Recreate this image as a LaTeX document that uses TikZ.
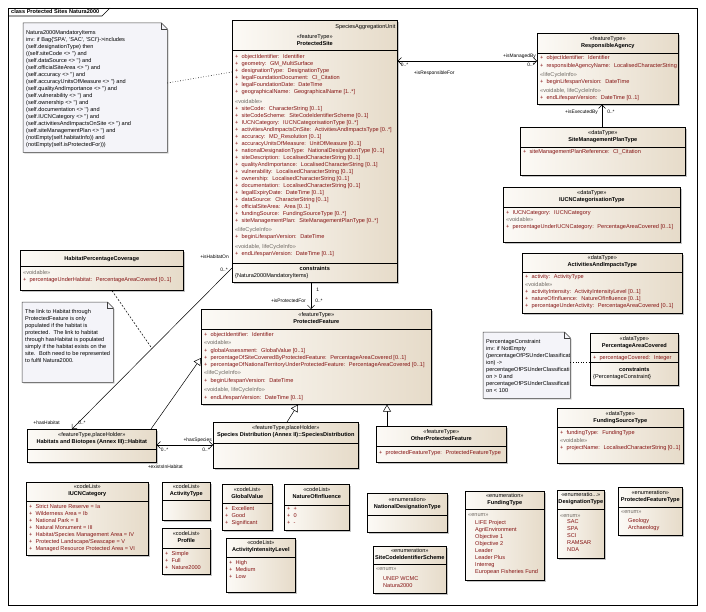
\documentclass[tikz,border=0pt]{standalone}
\usepackage{fontspec}
\newfontfamily\umlfont{Liberation Sans}
\usepackage{tikz}
\usetikzlibrary{positioning,arrows.meta,shadows,calc}

\definecolor{clsA}{RGB}{252,250,246}
\definecolor{clsB}{RGB}{230,219,201}
\definecolor{attred}{RGB}{132,18,18}
\definecolor{stgray}{RGB}{112,106,100}
\definecolor{notefill}{RGB}{244,244,249}
\newcommand{\stlabel}[1]{{\color{stgray}«#1»}}

\begin{document}
\begin{tikzpicture}[x=1pt,y=-1pt,
  every node/.style={font=\umlfont\fontsize{5.6}{7}\selectfont,inner sep=0pt},
  cls/.style={rectangle,draw=black,line width=0.6pt,anchor=north west,
              left color=clsA,right color=clsB,
              drop shadow={shadow xshift=1.3pt,shadow yshift=-1.3pt,fill=black!45}},
  notebox/.style={rectangle,anchor=north west},
  notebody/.style={draw=black!75,line width=0.5pt,fill=notefill,
              drop shadow={shadow xshift=1.3pt,shadow yshift=-1.3pt,fill=black!35}},
  fold/.style={draw=black!75,line width=0.5pt},
  head/.style={anchor=north,align=center,execute at begin node=\strut},
  attr/.style={anchor=north west,align=left,text=attred,execute at begin node=\strut},
  notetxt/.style={anchor=north west,align=left,execute at begin node=\strut},
  sep/.style={line width=0.6pt},
  lab/.style={font=\umlfont\fontsize{4.9}{6}\selectfont},
  nav/.style={-{Straight Barb[length=3.5pt,width=7pt]},line width=0.5pt},
  nav2/.style={{Straight Barb[length=3.5pt,width=7pt]}-{Straight Barb[length=3.5pt,width=7pt]},line width=0.5pt},
  gen/.style={-{Triangle[length=7pt,width=8pt,fill=white]},line width=0.5pt},
  link/.style={dotted,line width=0.6pt},
  acls/.style={dash pattern=on 2pt off 1.5pt,line width=0.5pt},
]
\fill[white] (0,0) rectangle (706,612);
\useasboundingbox (0,0) rectangle (706,612);

% frame
\draw[line width=0.7pt] (8,8) rectangle (697,605);
\draw[line width=0.6pt] (8,16) -- (102,16) -- (110,8);
\node[anchor=west] (title) at (11,12) {\textbf{class Protected Sites Natura2000}};

% notes
\node[notebox,minimum width=144,minimum height=129] (mand) at (23,23) {};
\draw[notebody] (mand.north west) -- ([xshift=-6pt]mand.north east)
  -- ([yshift=-6pt]mand.north east) -- (mand.south east) -- (mand.south west) -- cycle;
\draw[fold] ([xshift=-6pt]mand.north east) |- ([yshift=-6pt]mand.north east);
\node[notetxt] (mandtxt) at ([xshift=3pt,yshift=-6.9pt]mand.north west) {%
Natura2000MandatoryItems\\
inv: if Bag\{'SPA', 'SAC', 'SCI'\}->includes\\
(self.designationType) then\\
((self.siteCode <> '') and\\
(self.dataSource <> '') and\\
(self.officialSiteArea <> '') and\\
(self.accuracy <> '') and\\
(self.accuracyUnitsOfMeasure <> '') and\\
(self.qualityAndImportance <> '') and\\
(self.vulnerability <> '') and\\
(self.ownership <> '') and\\
(self.documentation <> '') and\\
(self.IUCNCategory <> '') and\\
(self.activitiesAndImpactsOnSite <> '') and\\
(self.siteManagementPlan <> '') and\\
(notEmpty(self.habitatInfo)) and\\
(notEmpty(self.isProtectedFor)))};

\node[notebox,minimum width=91,minimum height=80] (linknote) at (22,302) {};
\draw[notebody] (linknote.north west) -- ([xshift=-6pt]linknote.north east)
  -- ([yshift=-6pt]linknote.north east) -- (linknote.south east) -- (linknote.south west) -- cycle;
\draw[fold] ([xshift=-6pt]linknote.north east) |- ([yshift=-6pt]linknote.north east);
\node[notetxt] (linktxt) at ([xshift=3pt,yshift=-6.9pt]linknote.north west) {%
The link to Habitat through\\
ProtectedFeature is only\\
populated if the habitat is\\
protected.~ The link to habitat\\
through hasHabitat is populated\\
simply if the habitat exists on the\\
site.~ Both need to be represented\\
to fulfil Natura2000.};

\node[notebox,minimum width=87,minimum height=66] (pcnote) at (483,332) {};
\draw[notebody] (pcnote.north west) -- ([xshift=-6pt]pcnote.north east)
  -- ([yshift=-6pt]pcnote.north east) -- (pcnote.south east) -- (pcnote.south west) -- cycle;
\draw[fold] ([xshift=-6pt]pcnote.north east) |- ([yshift=-6pt]pcnote.north east);
\node[notetxt] (pctxt) at ([xshift=3pt,yshift=-6.9pt]pcnote.north west) {%
PercentageConstraint\\
inv: if NotEmpty\\
(percentageOfPSUnderClassificat\\
ion) ->\\
percentageOfPSUnderClassificati\\
on > 0 and\\
percentageOfPSUnderClassificati\\
on < 100};

% ProtectedSite
\node[cls,minimum width=165,minimum height=262] (site) at (232,20) {};
\node[anchor=north east] (siteparent) at ([xshift=-2pt,yshift=-4pt]site.north east) {SpeciesAggregationUnit};
\node[head] (sitehead) at ([yshift=-14.7pt]site.north) {«featureType»\\\textbf{ProtectedSite}};
\draw[sep] ([yshift=-30pt]site.north west) -- ([yshift=-30pt]site.north east);
\node[attr] (siteattr) at ([xshift=3pt,yshift=-33.8pt]site.north west) {%
+~ objectIdentifier:~ Identifier\\
+~ geometry:~ GM\_MultiSurface\\
+~ designationType:~ DesignationType\\
+~ legalFoundationDocument:~ CI\_Citation\\
+~ legalFoundationDate:~ DateTime\\
+~ geographicalName:~ GeographicalName [1..*]\\[3pt]
\stlabel{voidable}\\
+~ siteCode:~ CharacterString [0..1]\\
+~ siteCodeScheme:~ SiteCodeIdentifierScheme [0..1]\\
+~ IUCNCategory:~ IUCNCategorisationType [0..*]\\
+~ activitiesAndImpactsOnSite:~ ActivitiesAndImpactsType [0..*]\\
+~ accuracy:~ MD\_Resolution [0..1]\\
+~ accuracyUnitsOfMeasure:~ UnitOfMeasure [0..1]\\
+~ nationalDesignationType:~ NationalDesignationType [0..1]\\
+~ siteDescription:~ LocalisedCharacterString [0..1]\\
+~ qualityAndImportance:~ LocalisedCharacterString [0..1]\\
+~ vulnerability:~ LocalisedCharacterString [0..1]\\
+~ ownership:~ LocalisedCharacterString [0..1]\\
+~ documentation:~ LocalisedCharacterString [0..1]\\
+~ legalExpiryDate:~ DateTime [0..1]\\
+~ dataSource:~ CharacterString [0..1]\\
+~ officialSiteArea:~ Area [0..1]\\
+~ fundingSource:~ FundingSourceType [0..*]\\
+~ siteManagementPlan:~ SiteManagementPlanType [0..*]\\[2pt]
\stlabel{lifeCycleInfo}\\
+~ beginLifespanVersion:~ DateTime\\[3pt]
\stlabel{voidable, lifeCycleInfo}\\
+~ endLifespanVersion:~ DateTime [0..1]};
\draw[sep] ([yshift=-243pt]site.north west) -- ([yshift=-243pt]site.north east);
\node[head] (sitecons) at ([yshift=-245pt]site.north) {\textbf{constraints}};
\node[notetxt] (siteconstxt) at ([xshift=3pt,yshift=-252.8pt]site.north west) {\{Natura2000MandatoryItems\}};

% ResponsibleAgency
\node[cls,minimum width=141,minimum height=71] (agency) at (537,33) {};
\node[head] (agencyhead) at ([yshift=-3.3pt]agency.north) {«featureType»\\\textbf{ResponsibleAgency}};
\draw[sep] ([yshift=-20pt]agency.north west) -- ([yshift=-20pt]agency.north east);
\node[attr] (agencyattr) at ([xshift=3pt,yshift=-21.9pt]agency.north west) {%
+~ objectIdentifier:~ Identifier\\[1pt]
+~ responsibleAgencyName:~ LocalisedCharacterString\\[2pt]
\stlabel{lifeCycleInfo}\\
+~ beginLifespanVersion:~ DateTime\\[2pt]
\stlabel{voidable, lifeCycleInfo}\\
+~ endLifespanVersion:~ DateTime [0..1]};

% SiteManagementPlanType
\node[cls,minimum width=165,minimum height=48] (smp) at (520,127) {};
\node[head] (smphead) at ([yshift=-3.3pt]smp.north) {«dataType»\\\textbf{SiteManagementPlanType}};
\draw[sep] ([yshift=-20pt]smp.north west) -- ([yshift=-20pt]smp.north east);
\node[attr] (smpattr) at ([xshift=3pt,yshift=-21.9pt]smp.north west) {%
+~ siteManagementPlanReference:~ CI\_Citation};

% IUCNCategorisationType
\node[cls,minimum width=177,minimum height=55] (iucnT) at (503,187) {};
\node[head] (iucnThead) at ([yshift=-3.3pt]iucnT.north) {«dataType»\\\textbf{IUCNCategorisationType}};
\draw[sep] ([yshift=-20pt]iucnT.north west) -- ([yshift=-20pt]iucnT.north east);
\node[attr] (iucnTattr) at ([xshift=3pt,yshift=-22.9pt]iucnT.north west) {%
+~ IUCNCategory:~ IUCNCategory\\
\stlabel{voidable}\\
+~ percentageUnderIUCNCategory:~ PercentageAreaCovered [0..1]};

% ActivitiesAndImpactsType
\node[cls,minimum width=160,minimum height=60] (aai) at (522,253) {};
\node[head] (aaihead) at ([yshift=-2.6pt]aai.north) {«dataType»\\\textbf{ActivitiesAndImpactsType}};
\draw[sep] ([yshift=-19pt]aai.north west) -- ([yshift=-19pt]aai.north east);
\node[attr] (aaiattr) at ([xshift=3pt,yshift=-20.9pt]aai.north west) {%
+~ activity:~ ActivityType\\[1pt]
\stlabel{voidable}\\
+~ activityIntensity:~ ActivityIntensityLevel [0..1]\\
+~ natureOfInfluence:~ NatureOfInfluence [0..1]\\
+~ percentageUnderActivity:~ PercentageAreaCovered [0..1]};

% PercentageAreaCovered
\node[cls,minimum width=88,minimum height=52] (pac) at (590,333) {};
\node[head] (pachead) at ([yshift=-3.3pt]pac.north) {«dataType»\\\textbf{PercentageAreaCovered}};
\draw[sep] ([yshift=-19pt]pac.north west) -- ([yshift=-19pt]pac.north east);
\node[attr] (pacattr) at ([xshift=3pt,yshift=-20.9pt]pac.north west) {%
+~ percentageCovered:~ Integer};
\draw[sep] ([yshift=-29pt]pac.north west) -- ([yshift=-29pt]pac.north east);
\node[head] (paccons) at ([yshift=-32.9pt]pac.north) {\textbf{constraints}};
\node[notetxt] (pacconstxt) at ([xshift=3pt,yshift=-39.9pt]pac.north west) {\{PercentageConstraint\}};

% FundingSourceType
\node[cls,minimum width=126,minimum height=55] (fst) at (557,408) {};
\node[head] (fsthead) at ([yshift=-3.3pt]fst.north) {«dataType»\\\textbf{FundingSourceType}};
\draw[sep] ([yshift=-19pt]fst.north west) -- ([yshift=-19pt]fst.north east);
\node[attr] (fstattr) at ([xshift=3pt,yshift=-21.9pt]fst.north west) {%
+~ fundingType:~ FundingType\\[1pt]
\stlabel{voidable}\\
+~ projectName:~ LocalisedCharacterString [0..1]};

% HabitatPercentageCoverage
\node[cls,minimum width=163,minimum height=40] (hpc) at (20,250) {};
\node[head] (hpchead) at ([yshift=-4.9pt]hpc.north) {\textbf{HabitatPercentageCoverage}};
\draw[sep] ([yshift=-16pt]hpc.north west) -- ([yshift=-16pt]hpc.north east);
\node[attr] (hpcattr) at ([xshift=3pt,yshift=-19.9pt]hpc.north west) {%
\stlabel{voidable}\\
+~ percentageUnderHabitat:~ PercentageAreaCovered [0..1]};

% ProtectedFeature
\node[cls,minimum width=230,minimum height=95] (feature) at (201,309) {};
\node[head] (featurehead) at ([yshift=-3.3pt]feature.north) {«featureType»\\\textbf{ProtectedFeature}};
\draw[sep] ([yshift=-20pt]feature.north west) -- ([yshift=-20pt]feature.north east);
\node[attr] (featureattr) at ([xshift=3pt,yshift=-22.9pt]feature.north west) {%
+~ objectIdentifier:~ Identifier\\[1pt]
\stlabel{voidable}\\[1pt]
+~ globalAssessment:~ GlobalValue [0..1]\\
+~ percentageOfSiteCoveredByProtectedFeature:~ PercentageAreaCovered [0..1]\\
+~ percentageOfNationalTerritoryUnderProtectedFeature:~ PercentageAreaCovered [0..1]\\[1pt]
\stlabel{lifeCycleInfo}\\[1pt]
+~ beginLifespanVersion:~ DateTime\\[2pt]
\stlabel{voidable, lifeCycleInfo}\\[1pt]
+~ endLifespanVersion:~ DateTime [0..1]};

% Habitat, SpeciesDistribution, OtherProtectedFeature
\node[cls,minimum width=129,minimum height=33] (habitat) at (27,429) {};
\node[head] (habitathead) at ([yshift=-3.3pt]habitat.north) {«featureType,placeHolder»\\\textbf{Habitats and Biotopes (Annex III)::Habitat}};
\draw[sep] ([yshift=-20pt]habitat.north west) -- ([yshift=-20pt]habitat.north east);

\node[cls,minimum width=145,minimum height=46] (species) at (213,422) {};
\node[head] (specieshead) at ([yshift=-3.3pt]species.north) {«featureType,placeHolder»\\\textbf{Species Distribution (Annex II)::SpeciesDistribution}};
\draw[sep] ([yshift=-21pt]species.north west) -- ([yshift=-21pt]species.north east);

\node[cls,minimum width=130,minimum height=36] (other) at (376,426) {};
\node[head] (otherhead) at ([yshift=-3.3pt]other.north) {«featureType»\\\textbf{OtherProtectedFeature}};
\draw[sep] ([yshift=-20pt]other.north west) -- ([yshift=-20pt]other.north east);
\node[attr] (otherattr) at ([xshift=3pt,yshift=-22.9pt]other.north west) {%
+~ protectedFeatureType:~ ProtectedFeatureType};

% code lists
\node[cls,minimum width=122,minimum height=73] (iucnC) at (26,482) {};
\node[head] (iucnChead) at ([yshift=-2.3pt]iucnC.north) {«codeList»\\\textbf{IUCNCategory}};
\draw[sep] ([yshift=-19pt]iucnC.north west) -- ([yshift=-19pt]iucnC.north east);
\node[attr] (iucnCattr) at ([xshift=3pt,yshift=-21.9pt]iucnC.north west) {%
+~ Strict Nature Reserve = Ia\\
+~ Wilderness Area = Ib\\
+~ National Park = II\\
+~ Natural Monument = III\\
+~ Habitat/Species Management Area = IV\\
+~ Protected Landscape/Seascape = V\\
+~ Managed Resource Protected Area = VI};

\node[cls,minimum width=48,minimum height=38] (actT) at (162,482) {};
\node[head] (actThead) at ([yshift=-2.3pt]actT.north) {«codeList»\\\textbf{ActivityType}};
\draw[sep] ([yshift=-18pt]actT.north west) -- ([yshift=-18pt]actT.north east);

\node[cls,minimum width=48,minimum height=46] (profile) at (162,528) {};
\node[head] (profilehead) at ([yshift=-3.3pt]profile.north) {«codeList»\\\textbf{Profile}};
\draw[sep] ([yshift=-20pt]profile.north west) -- ([yshift=-20pt]profile.north east);
\node[attr] (profileattr) at ([xshift=3pt,yshift=-22.9pt]profile.north west) {%
+~ Simple\\
+~ Full\\
+~ Nature2000};

\node[cls,minimum width=50,minimum height=46] (gval) at (222,484) {};
\node[head] (gvalhead) at ([yshift=-3.3pt]gval.north) {«codeList»\\\textbf{GlobalValue}};
\draw[sep] ([yshift=-19pt]gval.north west) -- ([yshift=-19pt]gval.north east);
\node[attr] (gvalattr) at ([xshift=3pt,yshift=-21.9pt]gval.north west) {%
+~ Excellent\\
+~ Good\\
+~ Significant};

\node[cls,minimum width=65,minimum height=46] (nat) at (284,484) {};
\node[head] (nathead) at ([yshift=-3.3pt]nat.north) {«codeList»\\\textbf{NatureOfInfluence}};
\draw[sep] ([yshift=-21pt]nat.north west) -- ([yshift=-21pt]nat.north east);
\node[attr] (natattr) at ([xshift=3pt,yshift=-22.9pt]nat.north west) {%
+~ +\\
+~ 0\\
+~ -};

\node[cls,minimum width=69,minimum height=54] (ail) at (226,538) {};
\node[head] (ailhead) at ([yshift=-2.3pt]ail.north) {«codeList»\\\textbf{ActivityIntensityLevel}};
\draw[sep] ([yshift=-19pt]ail.north west) -- ([yshift=-19pt]ail.north east);
\node[attr] (ailattr) at ([xshift=3pt,yshift=-21.9pt]ail.north west) {%
+~ High\\
+~ Medium\\
+~ Low};

% enumerations
\node[cls,minimum width=80,minimum height=39] (ndt) at (367,493) {};
\node[head] (ndthead) at ([yshift=-4.3pt]ndt.north) {«enumeration»\\\textbf{NationalDesignationType}};
\draw[sep] ([yshift=-22pt]ndt.north west) -- ([yshift=-22pt]ndt.north east);

\node[cls,minimum width=73,minimum height=47] (scis) at (373,546) {};
\node[head] (scishead) at ([yshift=-2.3pt]scis.north) {«enumeration»\\\textbf{SiteCodeIdentifierScheme}};
\draw[sep] ([yshift=-18pt]scis.north west) -- ([yshift=-18pt]scis.north east);
\node[attr] (scisattr) at ([xshift=3pt,yshift=-20.9pt]scis.north west) {%
\stlabel{enum}\\[3pt]
\hspace*{7pt}UNEP WCMC\\
\hspace*{7pt}Natura2000};

\node[cls,minimum width=79,minimum height=89] (fund) at (465,491) {};
\node[head] (fundhead) at ([yshift=-2.3pt]fund.north) {«enumeration»\\\textbf{FundingType}};
\draw[sep] ([yshift=-18pt]fund.north west) -- ([yshift=-18pt]fund.north east);
\node[attr] (fundattr) at ([xshift=3pt,yshift=-21.9pt]fund.north west) {%
\stlabel{enum}\\[1pt]
\hspace*{7pt}LIFE Project\\
\hspace*{7pt}AgriEnvironment\\
\hspace*{7pt}Objective 1\\
\hspace*{7pt}Objective 2\\
\hspace*{7pt}Leader\\
\hspace*{7pt}Leader Plus\\
\hspace*{7pt}Interreg\\
\hspace*{7pt}European Fisheries Fund};

\node[cls,minimum width=47,minimum height=68] (dest) at (557,490) {};
\node[head] (desthead) at ([yshift=-2.3pt]dest.north) {«enumeratio...»\\\textbf{DesignationType}};
\draw[sep] ([yshift=-19pt]dest.north west) -- ([yshift=-19pt]dest.north east);
\node[attr] (destattr) at ([xshift=3pt,yshift=-23.9pt]dest.north west) {%
\stlabel{enum}\\[-1pt]
\hspace*{7pt}SAC\\
\hspace*{7pt}SPA\\
\hspace*{7pt}SCI\\
\hspace*{7pt}RAMSAR\\
\hspace*{7pt}NDA};

\node[cls,minimum width=64,minimum height=48] (pft) at (618,487) {};
\node[head] (pfthead) at ([yshift=-3.3pt]pft.north) {«enumeration»\\\textbf{ProtectedFeatureType}};
\draw[sep] ([yshift=-20pt]pft.north west) -- ([yshift=-20pt]pft.north east);
\node[attr] (pftattr) at ([xshift=3pt,yshift=-22.9pt]pft.north west) {%
\stlabel{enum}\\[2pt]
\hspace*{7pt}Geology\\
\hspace*{7pt}Archaeology};

% connectors
\draw[link] ([yshift=-60pt]mand.north east) -- ([yshift=-52pt]site.north west);
\draw[link] ([yshift=-30pt]pcnote.north east) -- ([yshift=-29pt]pac.north west);

\draw[nav2] ([yshift=-41pt]site.north east) -- ([yshift=-28pt]agency.north west)
  node[lab,pos=1,anchor=south east,xshift=-1pt,yshift=2.5pt]{+isManagedBy}
  node[lab,pos=1,anchor=north east,xshift=-2pt,yshift=-2pt]{0..*}
  node[lab,pos=0,anchor=north west,xshift=3pt,yshift=-2pt]{0..*}
  node[lab,pos=0,anchor=north west,xshift=16pt,yshift=-9.5pt]{+isResponsibleFor};

\draw[nav] ([xshift=82pt]smp.north west) -- ([xshift=65pt]agency.south west)
  node[lab,pos=1,anchor=north east,xshift=-4pt,yshift=-5pt]{+isExecutedBy}
  node[lab,pos=1,anchor=north west,xshift=5pt,yshift=-5pt]{0..*};

\draw[nav] ([xshift=79pt]site.south west) -- ([xshift=110pt]feature.north west)
  node[lab,pos=0,anchor=north west,xshift=5pt,yshift=-5pt]{1}
  node[lab,pos=1,anchor=south east,xshift=-5pt,yshift=6pt]{+isProtectedFor}
  node[lab,pos=1,anchor=south west,xshift=4pt,yshift=6pt]{0..*};

\draw[nav] ([yshift=-248pt]site.north west) -- ([xshift=45pt]habitat.north west)
  coordinate[pos=0.5] (hpcmid)
  node[lab,pos=0,anchor=south east,xshift=-3pt,yshift=9pt]{+isHabitatOn}
  node[lab,pos=0,anchor=north east,xshift=-4pt,yshift=0pt]{0..*}
  node[lab,pos=1,anchor=south east,xshift=-12pt,yshift=4pt]{+hasHabitat}
  node[lab,pos=1,anchor=south west,xshift=6pt,yshift=4pt]{0..*};
\draw[acls] ([xshift=92pt]hpc.south west) -- (hpcmid);

\draw[nav2] ([yshift=-16pt]habitat.north east) -- ([yshift=-23pt]species.north west)
  node[lab,pos=1,anchor=south east,xshift=-1pt,yshift=2.5pt]{+hasSpecies}
  node[lab,pos=1,anchor=north east,xshift=-3pt,yshift=-3pt]{0..*}
  node[lab,pos=0,anchor=north west,xshift=4pt,yshift=-3pt]{0..*}
  node[lab,pos=0,anchor=north west,xshift=-9pt,yshift=-20pt]{+existsInHabitat};

\draw[gen] ([xshift=124pt]habitat.north west) -- ([yshift=-49pt]feature.north west);
\draw[gen] ([xshift=74pt]species.north west) -- ([xshift=97pt]feature.south west);
\draw[gen] ([xshift=11pt]other.north west) -- ([xshift=186pt]feature.south west);
\end{tikzpicture}
\end{document}
